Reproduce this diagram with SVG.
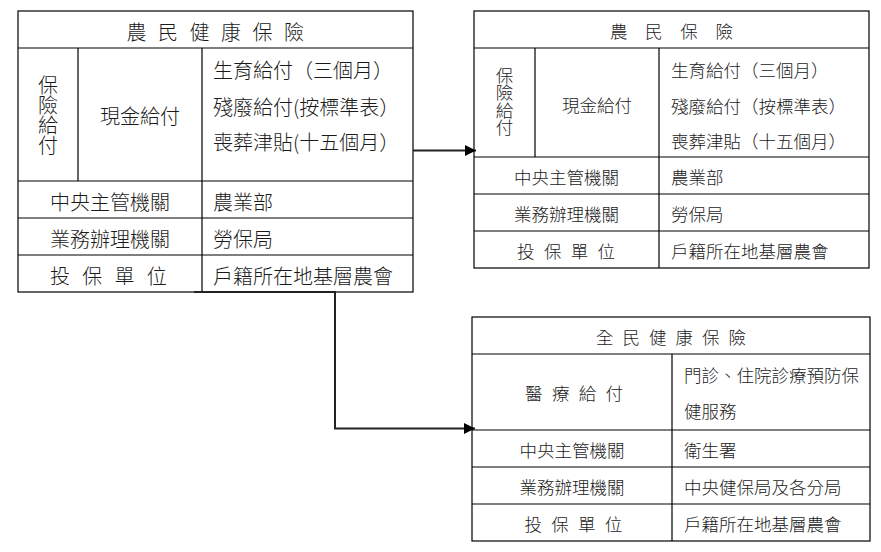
<svg xmlns="http://www.w3.org/2000/svg" width="881" height="552" viewBox="0 0 881 552">
<defs>
<style>
.bg{fill:#fff}
.ln{stroke:#000;stroke-width:1.2;fill:none}
.t{font-family:"Noto Sans CJK TC","Noto Sans CJK SC",sans-serif;fill:#1a1a1a;dominant-baseline:central;font-weight:300}
.a{font-size:20px}
.b{font-size:17.5px}
.m{text-anchor:middle}
.v{writing-mode:vertical-rl;text-anchor:middle}
.conn{stroke:#222;stroke-width:2;fill:none}
</style>
<marker id="arr" markerUnits="userSpaceOnUse" markerWidth="12" markerHeight="12" refX="11" refY="6" orient="auto">
<path d="M0,0.5 L11,6 L0,11.5 z" fill="#000"/>
</marker>
</defs>
<rect width="881" height="552" fill="#fff"/>

<g id="farmer-health-insurance">
<rect class="ln" x="18" y="11" width="395" height="281"/>
<path class="ln" d="M18,48H413 M78,48V181 M202,48V292 M18,181H413 M18,218H413 M18,255H413"/>
<text class="t a m" x="221" y="31" letter-spacing="11.5">農民健康保險</text>
<text class="t a v" x="48" y="115">保險給付</text>
<text class="t a m" x="140" y="115">現金給付</text>
<text class="t a" x="213" y="69">生育給付（三個月）</text>
<text class="t a" x="213" y="106">殘廢給付(按標準表）</text>
<text class="t a" x="213" y="141">喪葬津貼(十五個月）</text>
<text class="t a m" x="110" y="201">中央主管機關</text>
<text class="t a m" x="110" y="238">業務辦理機關</text>
<text class="t a m" x="114.5" y="275" letter-spacing="12.3">投保單位</text>
<text class="t a" x="213" y="201">農業部</text>
<text class="t a" x="213" y="238">勞保局</text>
<text class="t a" x="213" y="275">戶籍所在地基層農會</text>
</g>

<g id="farmer-insurance">
<rect class="ln" x="474" y="11" width="395" height="257"/>
<path class="ln" d="M474,48H869 M535,48V157 M659,48V268 M474,157H869 M474,194H869 M474,231H869"/>
<text class="t b m" x="680.3" y="30.5" letter-spacing="17.7">農民保險</text>
<text class="t b v" x="504.5" y="101.5">保險給付</text>
<text class="t b m" x="597" y="104">現金給付</text>
<text class="t b" x="671" y="69">生育給付（三個月）</text>
<text class="t b" x="671" y="105">殘廢給付（按標準表）</text>
<text class="t b" x="671" y="140">喪葬津貼（十五個月）</text>
<text class="t b m" x="566.5" y="176">中央主管機關</text>
<text class="t b m" x="566.5" y="213">業務辦理機關</text>
<text class="t b m" x="570.7" y="250" letter-spacing="9.3">投保單位</text>
<text class="t b" x="671" y="176">農業部</text>
<text class="t b" x="671" y="213">勞保局</text>
<text class="t b" x="671" y="250">戶籍所在地基層農會</text>
</g>

<g id="national-health-insurance">
<rect class="ln" x="472" y="317" width="398" height="224"/>
<path class="ln" d="M472,354H870 M672,354V541 M472,430H870 M472,467H870 M472,504H870"/>
<text class="t b m" x="675.5" y="336" letter-spacing="9">全民健康保險</text>
<text class="t b m" x="578.7" y="392" letter-spacing="9.3">醫療給付</text>
<text class="t b" x="684" y="374">門診、住院診療預防保</text>
<text class="t b" x="684" y="410">健服務</text>
<text class="t b m" x="572" y="449">中央主管機關</text>
<text class="t b m" x="572" y="486">業務辦理機關</text>
<text class="t b m" x="578" y="523" letter-spacing="9.3">投保單位</text>
<text class="t b" x="684" y="449">衛生署</text>
<text class="t b" x="684" y="486">中央健保局及各分局</text>
<text class="t b" x="684" y="523">戶籍所在地基層農會</text>
</g>

<g id="connectors">
<path class="conn" d="M413,150.5H476" marker-end="url(#arr)"/>
<path class="conn" d="M194,292H335V428.5H475" marker-end="url(#arr)"/>
</g>
</svg>
